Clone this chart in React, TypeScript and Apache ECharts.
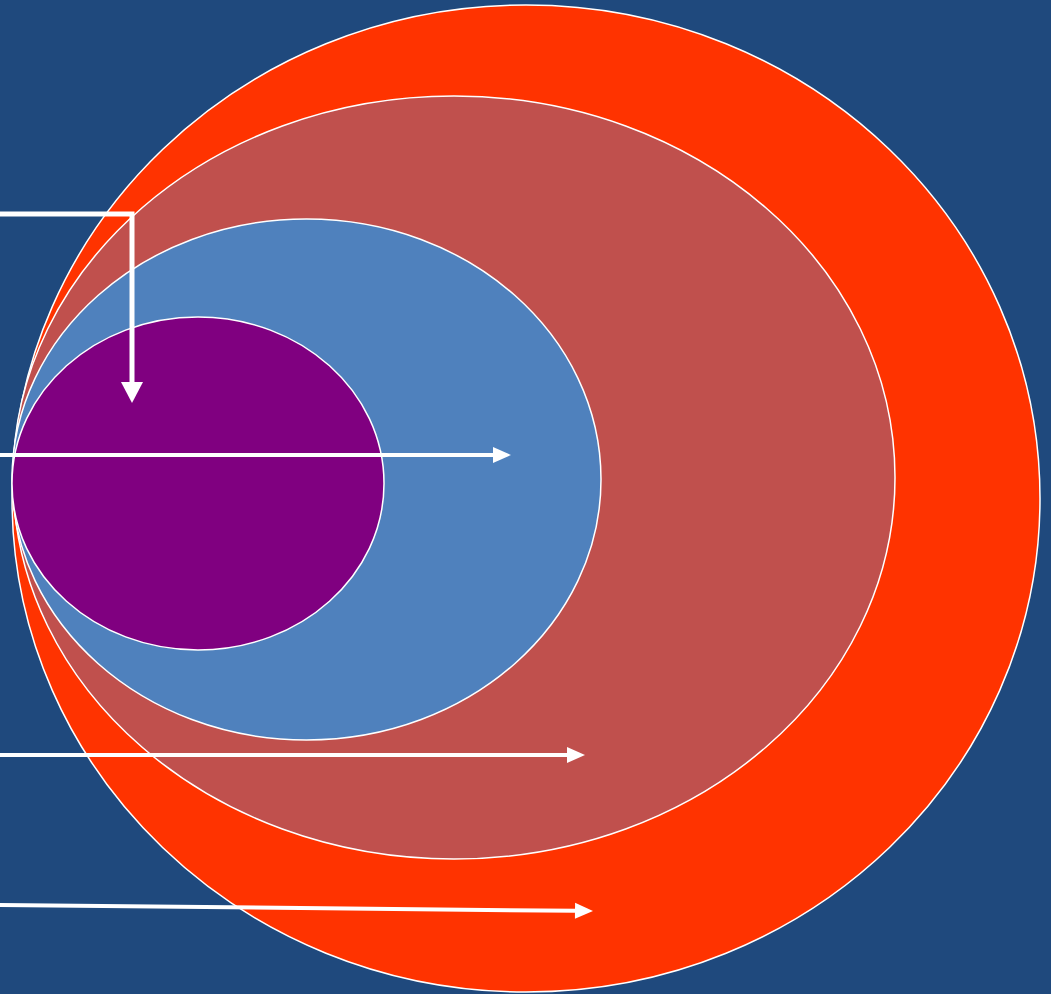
import React, { useEffect, useRef } from "react";
import * as echarts from "echarts";

// Ellipses: [centerX, centerY, radiusX, radiusY] in diagram units
const ellipseCenters: number[][] = [
  [526, 498.5],
  [454, 477.5],
  [306.5, 479.5],
  [198, 483.5],
];
const ellipseRadii: number[][] = [
  [514, 493.5],
  [441, 381.5],
  [294.5, 260.5],
  [186, 166.5],
];
const ellipseColors: string[] = ["#FF3300", "#C0504D", "#4F81BD", "#800080"];

// Arrows: list of points in diagram units
const arrowPaths: number[][][] = [
  [[0, 214], [132, 214], [132, 403]],
  [[0, 455], [511, 455]],
  [[0, 755], [585, 755]],
  [[0, 905], [593, 911]],
];
const arrowWidths: number[] = [5, 4, 4, 4];
const arrowHeadLen: number[] = [21, 18, 18, 18];
const arrowHeadHalf: number[] = [11, 8, 8, 8];

export default function App() {
  const ref = useRef<HTMLDivElement>(null);
  useEffect(() => {
    document.body.style.margin = "0";
    const chart = echarts.init(ref.current!, null, { renderer: "svg" });
    const ellipseData = ellipseCenters.map((c, i) => [c[0], c[1], ellipseRadii[i][0], ellipseRadii[i][1], i]);
    const arrowData = arrowPaths.map((p, i) => [p[0][0], p[0][1], i]);
    chart.setOption({
      animation: false,
      backgroundColor: "#1F497D",
      grid: { left: 0, right: 0, top: 0, bottom: 0 },
      xAxis: { type: "value", min: 0, max: 1051, show: false },
      yAxis: { type: "value", min: 0, max: 994, inverse: true, show: false },
      series: [
        {
          type: "custom",
          coordinateSystem: "cartesian2d",
          data: ellipseData,
          silent: true,
          renderItem: (params: any, api: any) => {
            const c = api.coord([api.value(0), api.value(1)]);
            const s = api.size([api.value(2), api.value(3)]);
            const idx = api.value(4);
            return {
              type: "ellipse",
              shape: { cx: c[0], cy: c[1], rx: s[0], ry: s[1] },
              style: { fill: ellipseColors[idx], stroke: "#FFFFFF", lineWidth: 1.5 },
            };
          },
        },
        {
          type: "custom",
          coordinateSystem: "cartesian2d",
          data: arrowData,
          silent: true,
          z: 10,
          renderItem: (params: any, api: any) => {
            const i = params.dataIndex;
            const pts = arrowPaths[i].map((p) => api.coord(p));
            const n = pts.length;
            const end = pts[n - 1];
            const prev = pts[n - 2];
            const dx = end[0] - prev[0];
            const dy = end[1] - prev[1];
            const len = Math.sqrt(dx * dx + dy * dy);
            const ux = dx / len;
            const uy = dy / len;
            const L = arrowHeadLen[i];
            const H = arrowHeadHalf[i];
            const bx = end[0] - ux * L;
            const by = end[1] - uy * L;
            const linePts = pts.slice(0, n - 1).concat([[bx + ux * 1, by + uy * 1]]);
            return {
              type: "group",
              children: [
                {
                  type: "polyline",
                  shape: { points: linePts },
                  style: { stroke: "#FFFFFF", lineWidth: arrowWidths[i], fill: null, lineJoin: "miter" },
                },
                {
                  type: "polygon",
                  shape: {
                    points: [
                      [end[0], end[1]],
                      [bx - uy * H, by + ux * H],
                      [bx + uy * H, by - ux * H],
                    ],
                  },
                  style: { fill: "#FFFFFF" },
                },
              ],
            };
          },
        },
      ],
    });
    return () => chart.dispose();
  }, []);
  return <div ref={ref} style={{ width: 1051, height: 994 }} />;
}
